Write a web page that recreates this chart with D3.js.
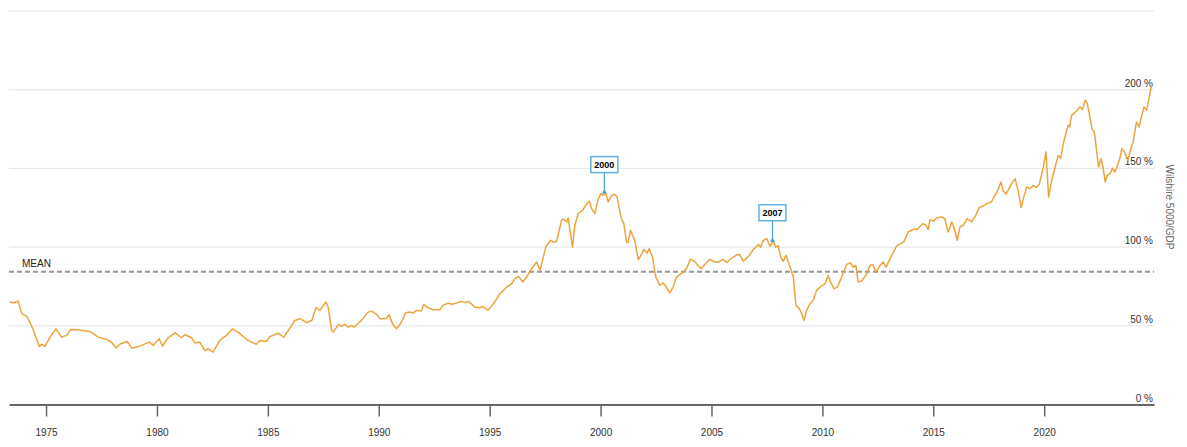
<!DOCTYPE html>
<html>
<head>
<meta charset="utf-8">
<script src="https://cdn.jsdelivr.net/npm/d3@7"></script>
<style>
  html, body { margin: 0; padding: 0; background: #fff; }
  svg { display: block; font-family: "Liberation Sans", Arial, sans-serif; }
</style>
</head>
<body>
<svg id="chart" width="1187" height="447"></svg>
<script>
// ---- data (decimal year, Wilshire 5000 / GDP in %) ----
const years = [
  1973.35,1973.55,1973.75,1973.9,1974.13,1974.3,1974.43,1974.7,1974.8,1974.95,1975.18,1975.45,1975.7,1975.93,1976.11,1976.45,1976.7,1977.0,1977.35,1977.73,1977.95,1978.15,1978.36,1978.66,1978.86,1979.23,1979.65,1979.83,1980.1,1980.25,1980.5,1980.84,1981.1,1981.26,1981.56,1981.7,1981.93,1982.16,1982.3,1982.53,1982.83,1983.13,1983.4,1983.65,1984.1,1984.48,1984.63,1984.93,
  1985.1,1985.47,1985.72,1985.92,1986.22,1986.45,1986.75,1986.98,1987.17,1987.35,1987.62,1987.72,1987.88,1987.95,1988.18,1988.32,1988.47,1988.62,1988.77,1988.88,1989.15,1989.52,1989.68,1989.9,1990.05,1990.32,1990.47,1990.62,1990.8,1990.98,1991.22,1991.4,1991.55,1991.7,1991.92,1992.03,1992.22,1992.45,1992.75,1992.9,1993.12,1993.28,1993.5,1993.72,1993.88,1994.02,1994.18,1994.32,1994.55,1994.7,1994.92,
  1995.17,1995.47,1995.77,1996.0,1996.14,1996.3,1996.49,1996.67,1996.84,1997.12,1997.27,1997.54,1997.75,1997.89,1998.02,1998.24,1998.32,1998.47,1998.54,1998.73,1998.84,1998.99,1999.19,1999.37,1999.49,1999.6,1999.74,1999.9,2000.02,2000.12,2000.24,2000.34,2000.5,2000.64,2000.74,2000.84,2000.94,2001.05,2001.17,2001.24,2001.35,2001.54,2001.7,2001.82,2001.95,2002.1,2002.19,2002.34,2002.49,2002.67,2002.82,2002.97,2003.12,2003.27,2003.42,2003.64,2003.87,2004.05,2004.24,2004.39,2004.54,2004.7,2004.92,
  2005.12,2005.32,2005.51,2005.69,2005.87,2006.1,2006.26,2006.44,2006.67,2006.89,2007.12,2007.21,2007.34,2007.49,2007.64,2007.79,2007.9,2008.01,2008.12,2008.24,2008.36,2008.46,2008.57,2008.69,2008.81,2008.96,2009.06,2009.17,2009.29,2009.44,2009.59,2009.74,2009.92,2010.12,2010.26,2010.37,2010.52,2010.68,2010.87,2011.09,2011.27,2011.39,2011.51,2011.61,2011.76,2011.96,
  2012.15,2012.27,2012.42,2012.6,2012.75,2012.87,2013.05,2013.32,2013.42,2013.53,2013.67,2013.87,2014.03,2014.17,2014.27,2014.4,2014.55,2014.67,2014.77,2014.85,2015.0,2015.15,2015.37,2015.52,2015.67,2015.83,2015.93,2016.08,2016.2,2016.35,2016.53,2016.72,2016.88,2017.07,2017.25,2017.4,2017.62,2017.77,2017.88,
  2018.05,2018.14,2018.28,2018.44,2018.54,2018.69,2018.84,2018.96,2019.06,2019.21,2019.36,2019.51,2019.64,2019.78,2019.96,2020.08,2020.2,2020.34,2020.48,2020.63,2020.74,2020.88,2021.08,2021.14,2021.24,2021.34,2021.49,2021.61,2021.73,2021.85,2021.94,2022.06,2022.15,2022.26,2022.36,2022.45,2022.56,2022.65,2022.75,2022.84,2022.96,2023.08,2023.18,2023.28,2023.41,2023.5,2023.63,2023.78,2023.9,2024.01,2024.16,2024.28,2024.38,2024.5,2024.62,2024.74,2024.84
];
const ratio = [
  65.1,64.6,65.7,57.7,56,51.5,47,36.9,38.2,36.9,42.8,48.1,42.8,43.9,47.7,47.5,46.8,46.3,42.8,41.3,39.5,36,38.6,40,35.8,37.1,39.6,37.5,41.8,37.1,42.4,45.6,42.4,44.3,42.4,39.2,39.6,34.3,35.4,33.3,40.7,43.9,48.1,46,40.7,38.2,40.7,40,
  43.2,45.3,42.8,47,53.4,54.5,52,53.4,61.5,59.8,65.1,61.9,47,46,50.9,49.6,50.9,49.2,50.2,49.2,52.4,58.7,59.3,57.3,54.5,54.5,57,51.3,48.1,51.3,58.3,58.7,58.1,59.8,59.4,63.6,61.5,60.2,60.2,63,64.4,63.7,64.4,65.5,64.7,65.5,64,61.9,61.5,62.4,59.8,
  64,70.4,74.6,76.8,80,81.4,77.8,81,85.2,90.5,85.2,100.5,104.3,103,103.7,117,118,116,118.5,100,113.9,121.3,123.4,127.6,129.3,124.5,121.3,130.8,134,132.9,134,128.7,132.9,133.6,132,124.5,118.1,114.9,103.2,103,110.7,104.3,92,94.8,98.4,96.2,99,93.7,81,75.7,77.2,74.6,71,74.6,81,83.1,86.3,92.2,91,88.4,86.3,89,92.2,
  90.5,90.5,92.2,90.1,92.7,94.8,95.4,91.1,94.1,98.6,101.6,100,104.3,105.4,100.5,103.9,100,101,93.7,91,94.8,90.5,86.3,81,63,60.9,58.1,53.4,59.8,64,66.2,72.5,75,76.8,82,77.8,73.6,74.6,81,89,89.9,87.2,88.3,77.8,78.5,82,
  88.4,89,84.2,88.4,90.5,87.3,92.7,100,101.5,102.2,103.3,109.6,110.7,111.7,111,113.2,114.9,113.9,111.1,117.5,116.4,118.7,119.1,118,109.6,116,112.8,104.3,112.8,113.9,118.1,116,119.1,125.1,126.2,127.6,128.7,132.9,135,
  141.4,136.1,133.6,137.9,140.5,143.5,135,125.1,130.8,138.2,137.1,139.3,137.8,140,150.9,160.5,131.9,142.5,150,158.4,156.3,166.8,177.4,176.3,183.8,184.9,187,189.1,187.5,193.4,191.3,182.7,175.3,173.2,161.5,150.9,156.3,151,141.4,145.6,146.6,150,147.7,151,156.3,162.6,160,155.2,162.6,166.8,179.5,176.3,182.7,189.1,187,195.5,202.9
];
const meanValue = 84.4;
const xTicks = [1975,1980,1985,1990,1995,2000,2005,2010,2015,2020];
const yGrid = [50,100,150,200,250];
const yLabels = [0,50,100,150,200];
const annoYears = [2000.17, 2007.75];
const annoValues = [134, 103.4];
const annoLabels = ["2000", "2007"];

// ---- drawing ----
(function () {
const svg = d3.select("#chart");
const xLeft = 9, xRight = 1154, yTop = 11, yBottom = 404.5;
const x = d3.scaleLinear().domain([1973.33, 2024.95]).range([xLeft, xRight]);
const y = d3.scaleLinear().domain([0, 250]).range([yBottom, yTop]);

// grid
svg.append("g").selectAll("line").data(yGrid).join("line")
  .attr("x1", xLeft).attr("x2", xRight)
  .attr("y1", d => y(d)).attr("y2", d => y(d))
  .attr("stroke", "#e3e3e3").attr("stroke-width", 1);

// y labels
svg.append("g").selectAll("text").data(yLabels).join("text")
  .attr("x", xRight - 1).attr("y", d => y(d) - 3)
  .attr("text-anchor", "end").attr("font-size", 10).attr("fill", "#333")
  .text(d => d + " %");

// axis title
svg.append("text")
  .attr("transform", `translate(1166,207) rotate(90)`)
  .attr("text-anchor", "middle").attr("font-size", 10).attr("fill", "#666")
  .text("Wilshire 5000/GDP");

// mean line
svg.append("line")
  .attr("x1", xLeft).attr("x2", xRight)
  .attr("y1", y(meanValue)).attr("y2", y(meanValue))
  .attr("stroke", "#999").attr("stroke-width", 2).attr("stroke-dasharray", "5,3");
svg.append("text")
  .attr("x", 22).attr("y", y(meanValue) - 5)
  .attr("font-size", 10).attr("fill", "#222").text("MEAN");

// series line
const data = years.map((d, i) => [d, ratio[i]]);
svg.append("path").datum(data)
  .attr("fill", "none").attr("stroke", "#eda43c").attr("stroke-width", 1.5)
  .attr("stroke-linejoin", "round")
  .attr("d", d3.line().x(d => x(d[0])).y(d => y(d[1])));

// x axis
const xAxis = d3.axisBottom(x).tickValues(xTicks).tickFormat(d3.format("d"))
  .tickSize(12).tickSizeOuter(0).tickPadding(12);
const gx = svg.append("g").attr("transform", `translate(0,${yBottom})`).call(xAxis);
gx.select(".domain").attr("stroke", "#666").attr("stroke-width", 2);
gx.selectAll(".tick line").attr("stroke", "#666").attr("stroke-width", 1.5);
gx.selectAll(".tick text").attr("font-size", 10).attr("fill", "#333")
  .attr("font-family", "Liberation Sans, Arial, sans-serif");

// annotations
const anno = svg.append("g");
annoYears.forEach((yr, i) => {
  const px = x(yr), py = y(annoValues[i]);
  const g = anno.append("g");
  g.append("line").attr("x1", px).attr("x2", px)
    .attr("y1", py - 21).attr("y2", py)
    .attr("stroke", "#4a9fd4").attr("stroke-width", 1.2);
  g.append("path")
    .attr("d", `M${px - 2.5},${py} L${px},${py - 4} L${px + 2.5},${py} Z`)
    .attr("fill", "#4a9fd4");
  g.append("rect")
    .attr("x", px - 13.5).attr("y", py - 37).attr("width", 27).attr("height", 16)
    .attr("fill", "#fff").attr("stroke", "#5fb2e2").attr("stroke-width", 1.5);
  g.append("text").attr("x", px).attr("y", py - 25.5)
    .attr("text-anchor", "middle").attr("font-size", 9).attr("font-weight", "bold")
    .attr("fill", "#000").text(annoLabels[i]);
});
})();
</script>
</body>
</html>
